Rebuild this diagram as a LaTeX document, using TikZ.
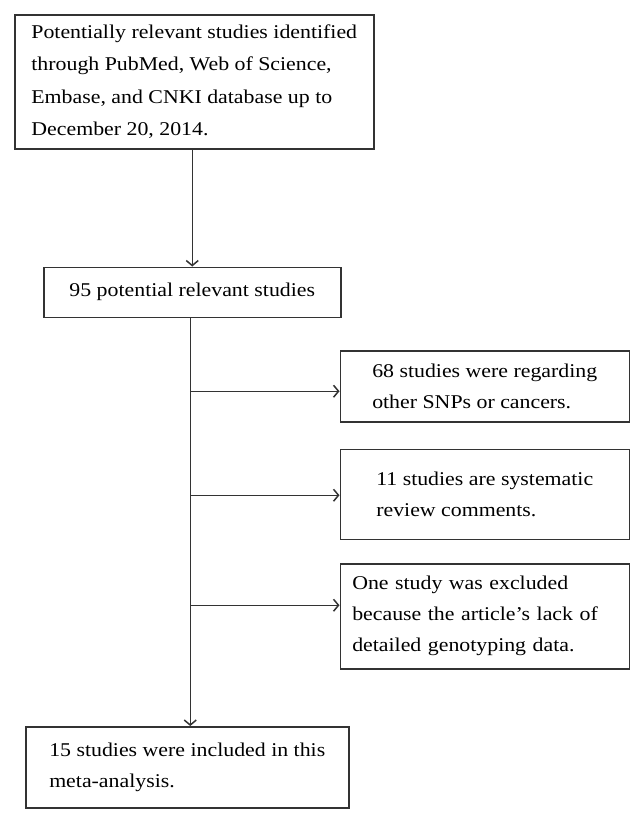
\documentclass[tikz,border=0pt]{standalone}
\usepackage{fontspec}
\setmainfont{Liberation Serif}[FakeStretch=1.12]
\usetikzlibrary{arrows.meta,positioning}

\begin{document}
\begin{tikzpicture}[line width=1.5pt,
	box/.style={draw=black!80,align=left,inner sep=0pt,font=\fontsize{19.5}{31}\selectfont},
	arr/.style={draw=black!80,-{Straight Barb[length=5pt,width=12pt]}}]
	\useasboundingbox (0,0) rectangle (642pt,-819pt);

	\node[box,minimum width=359pt,minimum height=134pt,anchor=north west,font=\fontsize{19.5}{32.5}\selectfont]	(A) at (14pt,-14pt)	{Potentially relevant studies identified\\through PubMed, Web of Science,\\Embase, and CNKI database up to\\December 20, 2014.};
	\node[box,minimum width=297pt,minimum height=50pt]	(B) [below=117pt of A.south west,anchor=north west,xshift=29pt]	{95 potential relevant studies};
	\node[box,minimum width=289pt,minimum height=71pt]	(C) [below right=32pt and -2pt of B.south east,anchor=north west]	{68 studies were regarding\\other SNPs or cancers.};
	\node[box,minimum width=289pt,minimum height=90pt]	(D) [below=26pt of C.south west,anchor=north west]	{11 studies are systematic\\review comments.};
	\node[box,text width=265pt,inner xsep=12pt,minimum height=105pt]	(F) [below=23pt of D.south west,anchor=north west]	{One study was excluded\\because the article’s lack of\\detailed genotyping data.};
	\node[box,minimum width=323pt,minimum height=81pt]	(E) [below=408pt of B.south west,anchor=north west,xshift=-18pt]	{15 studies were included in this\\meta-analysis.};
	\coordinate (T) at ([xshift=-2pt]B.south);

	% main flow
	\draw[arr] (A.south -| B.north) -- (B.north);
	\draw[arr] (T) -- (T |- E.north);
	% exclusions
	\draw[arr] ([yshift=-5pt]C.west -| T) -- ([yshift=-5pt]C.west);
	\draw[arr] ([yshift=-1pt]D.west -| T) -- ([yshift=-1pt]D.west);
	\draw[arr] ([yshift=11pt]F.west -| T) -- ([yshift=11pt]F.west);
\end{tikzpicture}
\end{document}
